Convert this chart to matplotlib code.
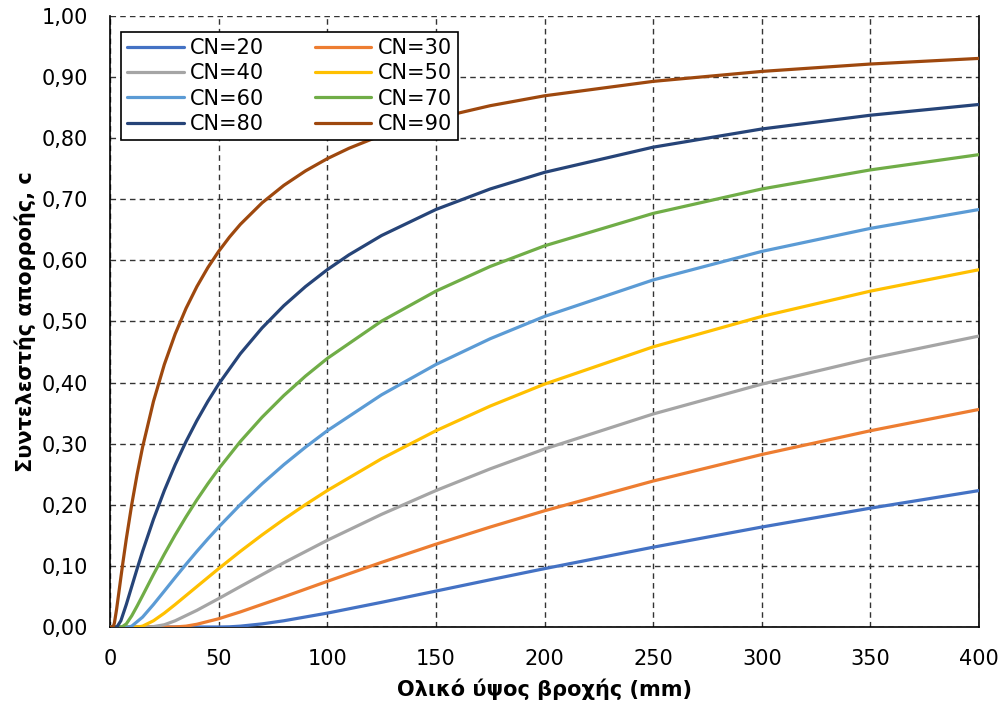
import matplotlib
matplotlib.use("Agg")
import matplotlib.pyplot as plt
from matplotlib.ticker import FuncFormatter, MultipleLocator

# Total rainfall depth P (mm) and runoff coefficient c for each curve number
p_cn20 = [0, 50.8, 55, 60, 70, 80, 100, 125, 150, 175, 200, 250, 300, 350, 400]
c_cn20 = [0, 0, 0.0003, 0.0014, 0.0051, 0.0102, 0.0227, 0.0404, 0.0588, 0.0773, 0.0955,
          0.1306, 0.1636, 0.1945, 0.2233]

p_cn30 = [0, 29.63, 35, 40, 50, 60, 80, 100, 125, 150, 175, 200, 250, 300, 350, 400]
c_cn30 = [0, 0, 0.0014, 0.0045, 0.0135, 0.0247, 0.0493, 0.0747, 0.1058, 0.1355, 0.1636,
          0.1902, 0.2389, 0.2823, 0.3212, 0.3561]

p_cn40 = [0, 19.05, 25, 30, 40, 50, 60, 80, 100, 125, 150, 175, 200, 250, 300, 350, 400]
c_cn40 = [0, 0, 0.0037, 0.0102, 0.0273, 0.0465, 0.0662, 0.1051, 0.1419, 0.1844, 0.2233,
          0.2588, 0.2913, 0.3486, 0.3975, 0.4395, 0.4762]

p_cn50 = [0, 12.7, 15, 20, 25, 30, 40, 50, 60, 70, 80, 90, 100, 125, 150, 175, 200, 250,
          300, 350, 400]
c_cn50 = [0, 0, 0.0014, 0.0102, 0.0227, 0.0368, 0.0662, 0.0955, 0.1238, 0.1507, 0.1762,
          0.2004, 0.2233, 0.2754, 0.3212, 0.3616, 0.3975, 0.4585, 0.5083, 0.5497, 0.5848]

p_cn60 = [0, 8.47, 10, 15, 20, 25, 30, 35, 40, 45, 50, 60, 70, 80, 90, 100, 125, 150, 175,
          200, 250, 300, 350, 400]
c_cn60 = [0, 0, 0.0014, 0.0162, 0.0368, 0.0588, 0.0810, 0.1027, 0.1238, 0.1441, 0.1636,
          0.2004, 0.2343, 0.2656, 0.2944, 0.3212, 0.3800, 0.4296, 0.4718, 0.5083, 0.5680,
          0.6147, 0.6524, 0.6833]

p_cn70 = [0, 5.44, 7.5, 10, 12.5, 15, 20, 25, 30, 35, 40, 45, 50, 60, 70, 80, 90, 100, 125,
          150, 175, 200, 250, 300, 350, 400]
c_cn70 = [0, 0, 0.0051, 0.0183, 0.0344, 0.0514, 0.0859, 0.1191, 0.1507, 0.1803, 0.2082,
          0.2343, 0.2588, 0.3036, 0.3433, 0.3788, 0.4107, 0.4395, 0.5006, 0.5497, 0.5901,
          0.6238, 0.6769, 0.7169, 0.7481, 0.7731]

p_cn80 = [0, 3.18, 5, 7.5, 10, 12.5, 15, 20, 25, 30, 35, 40, 45, 50, 60, 70, 80, 90, 100,
          110, 125, 150, 175, 200, 250, 300, 350, 400]
c_cn80 = [0, 0, 0.0102, 0.0368, 0.0662, 0.0955, 0.1238, 0.1762, 0.2233, 0.2656, 0.3036,
          0.3379, 0.3691, 0.3975, 0.4473, 0.4895, 0.5258, 0.5572, 0.5848, 0.6091, 0.6407,
          0.6833, 0.7169, 0.7441, 0.7853, 0.8151, 0.8376, 0.8552]

p_cn90 = [0, 1.41, 2, 3, 4, 5, 6, 7.5, 10, 12.5, 15, 20, 25, 30, 35, 40, 45, 50, 55, 60, 70,
          80, 90, 100, 110, 125, 150, 175, 200, 250, 300, 350, 400]
c_cn90 = [0, 0, 0.0060, 0.0282, 0.0544, 0.0810, 0.1070, 0.1441, 0.2004, 0.2502, 0.2944,
          0.3691, 0.4296, 0.4796, 0.5215, 0.5572, 0.5880, 0.6147, 0.6382, 0.6590, 0.6942,
          0.7228, 0.7465, 0.7665, 0.7835, 0.8049, 0.8325, 0.8532, 0.8694, 0.8930, 0.9093,
          0.9214, 0.9306]

labels = ["CN=20", "CN=30", "CN=40", "CN=50", "CN=60", "CN=70", "CN=80", "CN=90"]
colors = ["#4472C4", "#ED7D31", "#A5A5A5", "#FFC000", "#5B9BD5", "#70AD47", "#264478", "#9E480E"]

series = [(p_cn20, c_cn20), (p_cn30, c_cn30), (p_cn40, c_cn40), (p_cn50, c_cn50),
          (p_cn60, c_cn60), (p_cn70, c_cn70), (p_cn80, c_cn80), (p_cn90, c_cn90)]

plt.rcParams["font.family"] = ["DejaVu Sans"]

fig = plt.figure(figsize=(10.04, 7.16), dpi=100)
ax = fig.add_axes([110 / 1004, 89 / 716, 869 / 1004, 611 / 716])

handles = []
for (p, c), lab, col in zip(series, labels, colors):
    ln, = ax.plot(p, c, color=col, lw=2.3, label=lab, solid_capstyle="round",
                  solid_joinstyle="round", zorder=3)
    handles.append(ln)

ax.set_xlim(0, 400)
ax.set_ylim(0, 1.0)
ax.xaxis.set_major_locator(MultipleLocator(50))
ax.yaxis.set_major_locator(MultipleLocator(0.1))
ax.yaxis.set_major_formatter(FuncFormatter(lambda v, _: f"{v:.2f}".replace(".", ",")))
ax.tick_params(length=0, labelsize=15, pad=16)

ax.grid(True, color="#333333", ls=(0, (4, 3)), lw=1.0, zorder=1)
for side in ("left", "bottom", "right"):
    ax.spines[side].set_color("black")
    ax.spines[side].set_linewidth(1.2)
ax.spines["top"].set_visible(False)

ax.set_xlabel("Ολικό ύψος βροχής (mm)", fontsize=15, fontweight="bold", labelpad=7)
ax.set_ylabel("Συντελεστής απορροής, c", fontsize=15, fontweight="bold", labelpad=4)

# two-column legend filled row by row
order = [0, 2, 4, 6, 1, 3, 5, 7]
leg = ax.legend([handles[i] for i in order], [labels[i] for i in order], ncol=2,
                loc="upper left", bbox_to_anchor=(11 / 869, 1 - 16 / 611),
                borderaxespad=0, fontsize=15, frameon=True, fancybox=False,
                edgecolor="black", framealpha=1, handlelength=2.7, handletextpad=0.3,
                columnspacing=2.45, labelspacing=0.25, borderpad=0.3)
leg.get_frame().set_linewidth(1.2)

fig.savefig("out.png", dpi=100)
